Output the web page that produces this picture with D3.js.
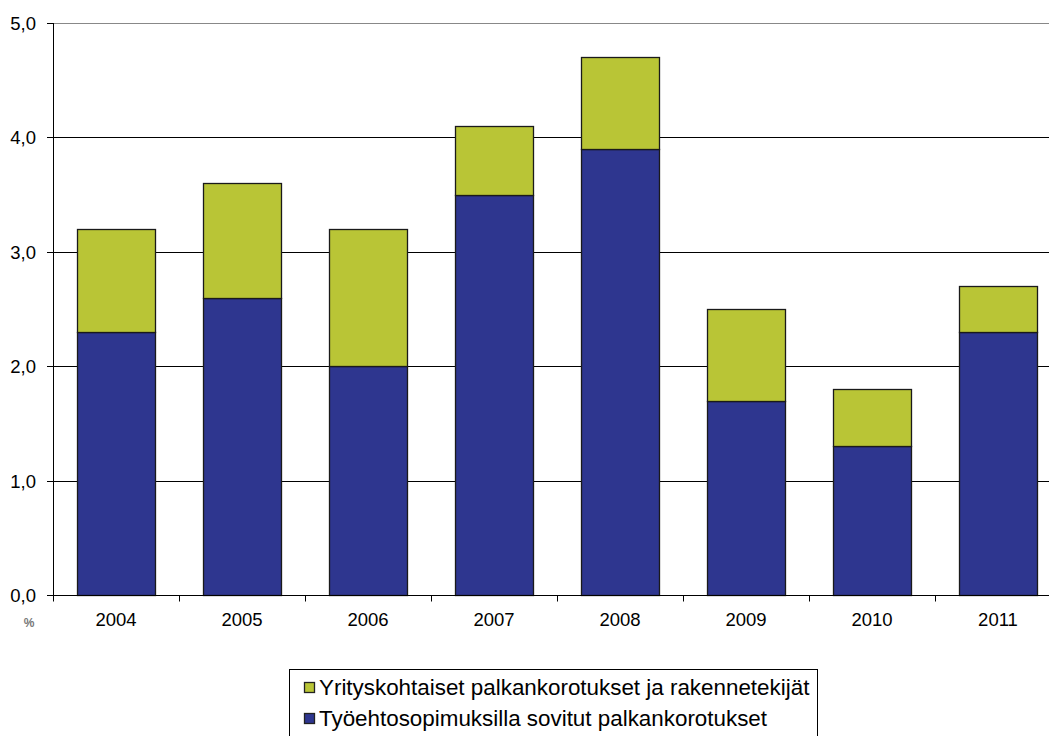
<!DOCTYPE html>
<html lang="fi">
<head>
<meta charset="UTF-8" />
<style>
  body { margin: 0; background: #fff; }
  svg { display: block; font-family: "Liberation Sans", Arial, sans-serif; }
</style>
<script src="https://d3js.org/d3.v7.min.js"></script>
</head>
<body>
<div id="chart"></div>
<script>
  // Data
  const years = ["2004", "2005", "2006", "2007", "2008", "2009", "2010", "2011"];
  const sopimus = [2.3, 2.6, 2.0, 3.5, 3.9, 1.7, 1.3, 2.3];   // blue, bottom
  const yritys = [0.9, 1.0, 1.2, 0.6, 0.8, 0.8, 0.5, 0.4];    // green, top
  const yTicks = [0, 1, 2, 3, 4, 5];
  const seriesNames = [
    "Yrityskohtaiset palkankorotukset ja rakennetekijät",
    "Työehtosopimuksilla sovitut palkankorotukset"
  ];
  const colors = { sopimus: "#2E368F", yritys: "#B9C536" };

  const width = 1049, height = 736;
  // the plot area runs a little past the right edge of the picture
  const margin = { top: 23, right: -12, bottom: 141, left: 53 };

  const svg = d3.select("#chart").append("svg")
    .attr("width", width)
    .attr("height", height);

  const x = d3.scaleBand()
    .domain(years)
    .range([margin.left, width - margin.right])
    .paddingInner(0.38)
    .paddingOuter(0.19);

  const y = d3.scaleLinear()
    .domain([0, 5])
    .range([height - margin.bottom, margin.top]);

  // gridlines
  svg.append("g")
    .selectAll("line")
    .data(yTicks.filter(d => d > 0))
    .enter().append("line")
    .attr("x1", margin.left)
    .attr("x2", width)
    .attr("y1", d => Math.round(y(d)) + 0.5)
    .attr("y2", d => Math.round(y(d)) + 0.5)
    .attr("stroke", d => d === 5 ? "#888" : "#000")
    .attr("stroke-width", 1);

  // stacked bars
  const rows = years.map((yr, i) => ({ year: yr, a: sopimus[i], b: yritys[i] }));
  const stack = d3.stack().keys(["a", "b"])(rows);
  const fills = [colors.sopimus, colors.yritys];

  svg.append("g")
    .selectAll("g")
    .data(stack)
    .enter().append("g")
    .attr("fill", (d, i) => fills[i])
    .selectAll("rect")
    .data(d => d)
    .enter().append("rect")
    .attr("x", d => Math.round(x(d.data.year)) + 0.5)
    .attr("y", d => Math.round(y(d[1])) + 0.5)
    .attr("width", Math.round(x.bandwidth()))
    .attr("height", d => Math.round(y(d[0])) - Math.round(y(d[1])))
    .attr("stroke", "#1a1a1a")
    .attr("stroke-width", 1.3);

  // x axis
  const xAxis = svg.append("g")
    .attr("transform", `translate(0,${Math.round(y(0)) + 0.5})`);
  xAxis.append("line")
    .attr("x1", margin.left - 5)
    .attr("x2", width)
    .attr("stroke", "#000");
  const bounds = d3.range(years.length + 1).map(i => margin.left + i * x.step());
  xAxis.selectAll(".tick")
    .data(bounds)
    .enter().append("line")
    .attr("x1", d => Math.round(d) + 0.5)
    .attr("x2", d => Math.round(d) + 0.5)
    .attr("y1", 0)
    .attr("y2", 6)
    .attr("stroke", "#000");
  xAxis.selectAll("text")
    .data(years)
    .enter().append("text")
    .attr("x", d => x(d) + x.bandwidth() / 2)
    .attr("y", 30)
    .attr("text-anchor", "middle")
    .attr("font-size", 18.5)
    .attr("fill", "#000")
    .text(d => d);

  // y axis
  const yAxis = svg.append("g");
  yAxis.append("line")
    .attr("x1", margin.left + 0.5)
    .attr("x2", margin.left + 0.5)
    .attr("y1", y(5))
    .attr("y2", y(0) + 1)
    .attr("stroke", "#000");
  yAxis.selectAll(".tick")
    .data(yTicks)
    .enter().append("line")
    .attr("x1", margin.left - 6)
    .attr("x2", margin.left)
    .attr("y1", d => Math.round(y(d)) + 0.5)
    .attr("y2", d => Math.round(y(d)) + 0.5)
    .attr("stroke", "#000");
  yAxis.selectAll("text")
    .data(yTicks)
    .enter().append("text")
    .attr("x", margin.left - 17)
    .attr("y", d => y(d) + 7)
    .attr("text-anchor", "end")
    .attr("font-size", 18.5)
    .attr("fill", "#000")
    .text(d => d.toFixed(1).replace(".", ","));

  // unit label
  svg.append("text")
    .attr("x", 29)
    .attr("y", 627)
    .attr("text-anchor", "middle")
    .attr("font-size", 12)
    .attr("font-weight", "bold")
    .attr("fill", "#777")
    .text("%");

  // legend
  const legend = svg.append("g");
  legend.append("rect")
    .attr("x", 289.5)
    .attr("y", 669.5)
    .attr("width", 528)
    .attr("height", 80)
    .attr("fill", "#fff")
    .attr("stroke", "#000");
  const legendColors = [colors.yritys, colors.sopimus];
  const items = legend.selectAll(".item")
    .data(seriesNames)
    .enter().append("g")
    .attr("transform", (d, i) => `translate(304,${695 + i * 31})`);
  items.append("rect")
    .attr("x", 0.5)
    .attr("y", -12.5)
    .attr("width", 10)
    .attr("height", 10)
    .attr("fill", (d, i) => legendColors[i])
    .attr("stroke", "#222")
    .attr("stroke-width", 1.3);
  items.append("text")
    .attr("x", 15)
    .attr("y", 0)
    .attr("font-size", 22.4)
    .attr("fill", "#000")
    .text(d => d);
</script>
</body>
</html>
